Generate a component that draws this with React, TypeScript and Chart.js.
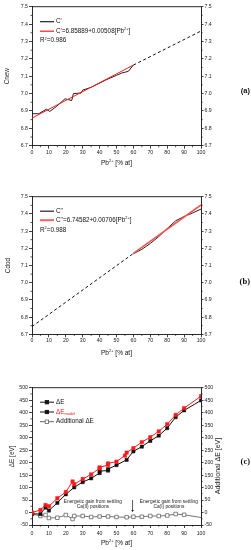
import React, { useEffect, useRef } from "react";
import { Chart, registerables } from "chart.js";
Chart.register(...registerables);

const SANS = "'Liberation Sans', Arial, sans-serif";
const SERIF = "'Liberation Serif', 'Times New Roman', serif";

// ---------------- data: panel (a) ----------------
const aX = [0, 4, 8.5, 10.5, 14.5, 19.5, 21.5, 23.5, 24.5, 29, 30, 35, 44, 50, 53, 57, 60];
const aC1 = [6.884, 6.884, 6.91, 6.897, 6.926, 6.97, 6.965, 6.96, 7.0, 7.003, 7.02, 7.036, 7.08, 7.105, 7.118, 7.128, 7.165];
const aFitX = [0, 60];
const aFitY = [6.859, 7.164];
const aExtX = [60, 100];
const aExtY = [7.164, 7.36];

// ---------------- data: panel (b) ----------------
const bX = [60, 65, 70, 75, 80, 85, 90, 95, 100];
const bC2 = [7.168, 7.194, 7.228, 7.268, 7.315, 7.36, 7.385, 7.405, 7.428];
const bFitX = [60, 100];
const bFitY = [7.17, 7.452];
const bExtX = [0, 60];
const bExtY = [6.745, 7.17];

// ---------------- data: panel (c) ----------------
const cdEX = [0, 5, 8, 10, 15, 20, 25, 30, 35, 40, 40, 45, 45, 50, 56, 60, 65, 70, 75, 80, 85, 90, 100];
const cdEY = [-5, -6, 20, 8, 39, 73, 101, 122, 137, 158, 166, 168, 174, 190, 211, 245, 264, 287, 308, 338, 382, 409, 449];
const cdEmX = [0, 5, 8, 10, 15, 20, 24, 25, 30, 35, 40, 40, 45, 45, 50, 55, 56, 60, 65, 70, 75, 80, 85, 90, 100];
const cdEmY = [0, 10, 30, 25, 57, 82, 124, 113, 134, 153, 177, 181, 190, 197, 204, 228, 240, 258, 282, 302, 325, 354, 391, 418, 466];
const cAddX = [0, 5, 8, 10, 15, 20, 24, 25, 30, 35, 40, 45, 50, 56, 60, 65, 70, 75, 80, 85, 90, 100];
const cAddY = [-6, -14, -10, -22, -21, -10, -26, -14, -14, -18, -16, -16, -18, -19, -17, -17, -14, -14, -12, -6, -9, -20];

// tick settings
const xRange = [0, 100, 10];
const abRange = [6.7, 7.5, 0.1];
const cRange = [-50, 500, 50];

// annotation texts (panel c)
const cNotes = [
  { x: 36, y: [42, 23], lines: ["Energetic gain from settling", "Ca(II) positions"] },
  { x: 81, y: [42, 23], lines: ["Energetic gain from settling", "Ca(I) positions"] },
];
const cArrow = { x: 59.5, from: 50, to: 2 };
const cRightTitle = "Additional \u0394E [eV]";

type Seg = { t: string; sup?: boolean; sub?: boolean; color?: string };

const xTitle: Seg[] = [{ t: "Pb" }, { t: "2+", sup: true }, { t: " [% at]" }];

function pts(xs: number[], ys: number[]) {
  return xs.map((x, i) => ({ x, y: ys[i] }));
}

function drawRich(ctx: CanvasRenderingContext2D, segs: Seg[], x: number, y: number, size: number, align: "left" | "center") {
  const fonts = segs.map((s) => `${s.sup || s.sub ? size * 0.62 : size}px ${SANS}`);
  const widths = segs.map((s, i) => {
    ctx.font = fonts[i];
    return ctx.measureText(s.t).width;
  });
  const total = widths.reduce((a, b) => a + b, 0);
  let cx = align === "center" ? x - total / 2 : x;
  ctx.textAlign = "left";
  ctx.textBaseline = "middle";
  segs.forEach((s, i) => {
    ctx.font = fonts[i];
    ctx.fillStyle = s.color || "#111";
    const dy = s.sup ? -size * 0.36 : s.sub ? size * 0.32 : 0;
    ctx.fillText(s.t, cx, y + dy);
    cx += widths[i];
  });
}

function lineDs(xs: number[], ys: number[], color: string, width: number, dash: number[] = []) {
  return {
    data: pts(xs, ys),
    borderColor: color,
    backgroundColor: color,
    borderWidth: width,
    borderDash: dash,
    pointRadius: 0,
    fill: false,
    tension: 0,
    yAxisID: "y",
  };
}

type LegendItem = { dy: number; segs: Seg[]; line?: { color: string; width: number }; marker?: { fill: string; stroke: string } };

function overlay(o: {
  xTitleY: number;
  label: string;
  labelFont: string;
  labelY: number;
  legend: LegendItem[];
  extra?: (chart: any, ctx: CanvasRenderingContext2D) => void;
}) {
  return {
    id: "overlay",
    afterDraw(chart: any) {
      const ctx: CanvasRenderingContext2D = chart.ctx;
      const { left, right, top, bottom } = chart.chartArea;
      ctx.save();
      // top frame line
      ctx.strokeStyle = "#111";
      ctx.lineWidth = 0.9;
      ctx.beginPath();
      ctx.moveTo(left, top);
      ctx.lineTo(right, top);
      ctx.stroke();
      // minor ticks
      ctx.lineWidth = 0.7;
      const xs = chart.scales.x;
      ctx.beginPath();
      for (let v = xRange[0] + xRange[2] / 2; v < xRange[1]; v += xRange[2]) {
        const p = xs.getPixelForValue(v);
        ctx.moveTo(p, bottom);
        ctx.lineTo(p, bottom + 1.6);
      }
      const ys = chart.scales.y;
      const st = ys.options.ticks.stepSize;
      for (let v = ys.min + st / 2; v < ys.max; v += st) {
        const p = ys.getPixelForValue(v);
        ctx.moveTo(left, p);
        ctx.lineTo(left - 1.6, p);
        ctx.moveTo(right, p);
        ctx.lineTo(right + 1.6, p);
      }
      ctx.stroke();
      // x title
      drawRich(ctx, xTitle, (left + right) / 2, o.xTitleY, 6.5, "center");
      // panel label
      ctx.font = o.labelFont;
      ctx.fillStyle = "#111";
      ctx.textAlign = "right";
      ctx.textBaseline = "middle";
      ctx.fillText(o.label, 250, o.labelY);
      // legend
      o.legend.forEach((it) => {
        const y = top + it.dy;
        if (it.line) {
          ctx.strokeStyle = it.line.color;
          ctx.lineWidth = it.line.width;
          ctx.setLineDash([]);
          ctx.beginPath();
          ctx.moveTo(left + 8, y);
          ctx.lineTo(left + 22, y);
          ctx.stroke();
        }
        if (it.marker) {
          ctx.fillStyle = it.marker.fill;
          ctx.strokeStyle = it.marker.stroke;
          ctx.lineWidth = 0.8;
          ctx.fillRect(left + 13.2, y - 1.7, 3.4, 3.4);
          ctx.strokeRect(left + 13.2, y - 1.7, 3.4, 3.4);
        }
        drawRich(ctx, it.segs, it.line ? left + 24 : left + 8, y, 6.3, "left");
      });
      if (o.extra) o.extra(chart, ctx);
      ctx.restore();
    },
  };
}

function makeOptions(p: {
  range: number[];
  dec: number;
  ytitle: string;
  ytp: number;
  xh: number;
  padTop: number;
  padBottom: number;
  tickPad: number;
}) {
  const tickFont = { family: SANS, size: 5.2 };
  const grid = { drawOnChartArea: false, drawTicks: true, tickLength: 3, color: "#111", lineWidth: 0.8 };
  const border = { display: true, color: "#111", width: 0.9 };
  const fmt = (v: any) => (p.dec ? Number(v).toFixed(p.dec) : String(Math.round(Number(v))));
  return {
    responsive: false,
    animation: false,
    devicePixelRatio: 1,
    events: [],
    layout: { padding: { left: 0, right: 26, top: p.padTop, bottom: p.padBottom } },
    plugins: { legend: { display: false }, tooltip: { enabled: false }, title: { display: false } },
    scales: {
      x: {
        type: "linear",
        min: xRange[0],
        max: xRange[1],
        ticks: { stepSize: xRange[2], font: tickFont, color: "#222", padding: p.tickPad, maxRotation: 0, autoSkip: false },
        grid,
        border,
        afterFit: (s: any) => {
          s.height = p.xh;
        },
      },
      y: {
        type: "linear",
        position: "left",
        min: p.range[0],
        max: p.range[1],
        ticks: { stepSize: p.range[2], font: tickFont, color: "#222", padding: 1, autoSkip: false, callback: fmt },
        title: { display: true, text: p.ytitle, font: { family: SANS, size: 6.4 }, color: "#222", padding: { top: p.ytp, bottom: 0 } },
        grid,
        border,
        afterFit: (s: any) => {
          s.width = 32;
        },
      },
      y2: {
        type: "linear",
        position: "right",
        display: true,
        min: p.range[0],
        max: p.range[1],
        ticks: { stepSize: p.range[2], font: tickFont, color: "#222", padding: 1, autoSkip: false, callback: fmt },
        grid: { ...grid, tickLength: 2.5 },
        border,
        afterFit: (s: any) => {
          s.width = 24;
        },
      },
    },
  };
}

function makeA(): any {
  return {
    type: "line",
    data: {
      datasets: [
        lineDs(aFitX, aFitY, "#ff1a1a", 1),
        lineDs(aX, aC1, "#222", 1),
        lineDs(aExtX, aExtY, "#111", 1, [3, 2.5]),
      ],
    },
    options: makeOptions({ range: abRange, dec: 1, ytitle: "Cnew", ytp: 3.7, xh: 26, padTop: 6.7, padBottom: 8.3, tickPad: 1 }),
    plugins: [
      overlay({
        xTitleY: 163,
        label: "(a)",
        labelFont: `bold 7.5px ${SANS}`,
        labelY: 91,
        legend: [
          { dy: 15, line: { color: "#222", width: 1.2 }, segs: [{ t: "C'" }] },
          { dy: 24.5, line: { color: "#ff1a1a", width: 1.2 }, segs: [{ t: "C'=6.85889+0.00508[Pb" }, { t: "2+", sup: true }, { t: "]" }] },
          { dy: 34, segs: [{ t: "R" }, { t: "2", sup: true }, { t: "=0.986" }] },
        ],
      }),
    ],
  };
}

function makeB(): any {
  return {
    type: "line",
    data: {
      datasets: [
        lineDs(bFitX, bFitY, "#ff5050", 1.5),
        lineDs(bX, bC2, "#222", 1),
        lineDs(bExtX, bExtY, "#111", 1, [3, 2.5]),
      ],
    },
    options: makeOptions({ range: abRange, dec: 1, ytitle: "Cdod", ytp: 4.5, xh: 26, padTop: 16.7, padBottom: 4.7, tickPad: 0.6 }),
    plugins: [
      overlay({
        xTitleY: 173,
        label: "(b)",
        labelFont: `bold 8.5px ${SERIF}`,
        labelY: 102,
        legend: [
          { dy: 14.5, line: { color: "#222", width: 1.2 }, segs: [{ t: "C''" }] },
          { dy: 23.5, line: { color: "#ff6060", width: 2 }, segs: [{ t: "C''=6.74582+0.00706[Pb" }, { t: "2+", sup: true }, { t: "]" }] },
          { dy: 33.5, segs: [{ t: "R" }, { t: "2", sup: true }, { t: "=0.988" }] },
        ],
      }),
    ],
  };
}

function makeC(): any {
  const red = "#ff1a1a";
  return {
    type: "line",
    data: {
      datasets: [
        { ...lineDs(cdEmX, cdEmY, red, 1), pointRadius: 2.4, pointStyle: "rect", pointBackgroundColor: red, pointBorderColor: red, pointBorderWidth: 0.5 },
        { ...lineDs(cdEX, cdEY, "#111", 1), pointRadius: 2.3, pointStyle: "rect", pointBackgroundColor: "#111", pointBorderColor: "#111", pointBorderWidth: 0.5 },
        {
          ...lineDs(cAddX, cAddY, "#666", 0.9),
          pointRadius: (c: any) => (c.dataIndex === cAddX.length - 1 ? 0 : 2.5),
          pointStyle: "rect",
          pointBackgroundColor: "#fff",
          pointBorderColor: "#666",
          pointBorderWidth: 0.8,
        },
      ],
    },
    options: makeOptions({
      range: cRange,
      dec: 0,
      ytitle: "\u0394E [eV]",
      ytp: 7.9,
      xh: 25,
      padTop: 22.7,
      padBottom: 0,
      tickPad: 2.5,
    }),
    plugins: [
      overlay({
        xTitleY: 178,
        label: "(c)",
        labelFont: `bold 8.5px ${SERIF}`,
        labelY: 97,
        legend: [
          { dy: 14.5, line: { color: "#111", width: 1 }, marker: { fill: "#111", stroke: "#111" }, segs: [{ t: "\u0394E" }] },
          {
            dy: 24.3,
            line: { color: "#111", width: 1 },
            marker: { fill: "#111", stroke: "#111" },
            segs: [{ t: "\u0394E", color: red }, { t: "model", sub: true, color: red }],
          },
          { dy: 34, line: { color: "#666", width: 1 }, marker: { fill: "#fff", stroke: "#666" }, segs: [{ t: "Additional \u0394E" }] },
        ],
        extra: (chart: any, ctx: CanvasRenderingContext2D) => {
          const xs = chart.scales.x;
          const ys = chart.scales.y;
          ctx.font = `4.8px ${SANS}`;
          ctx.fillStyle = "#222";
          ctx.textAlign = "center";
          ctx.textBaseline = "middle";
          cNotes.forEach((n) => {
            n.lines.forEach((t, i) => ctx.fillText(t, xs.getPixelForValue(n.x), ys.getPixelForValue(n.y[i])));
          });
          const ax = xs.getPixelForValue(cArrow.x);
          const y1 = ys.getPixelForValue(cArrow.from);
          const y2 = ys.getPixelForValue(cArrow.to);
          ctx.strokeStyle = "#111";
          ctx.lineWidth = 0.7;
          ctx.beginPath();
          ctx.moveTo(ax, y1);
          ctx.lineTo(ax, y2 - 1.5);
          ctx.stroke();
          ctx.fillStyle = "#111";
          ctx.beginPath();
          ctx.moveTo(ax - 1.3, y2 - 2);
          ctx.lineTo(ax + 1.3, y2 - 2);
          ctx.lineTo(ax, y2);
          ctx.closePath();
          ctx.fill();
          // right axis title, reading bottom-to-top
          ctx.save();
          ctx.translate(218, 101);
          ctx.rotate(-Math.PI / 2);
          ctx.font = `7px ${SANS}`;
          ctx.fillStyle = "#222";
          ctx.textAlign = "center";
          ctx.textBaseline = "middle";
          ctx.fillText(cRightTitle, 0, 0);
          ctx.restore();
        },
      }),
    ],
  };
}

function Panel({ top, height, make }: { top: number; height: number; make: () => any }) {
  const ref = useRef<HTMLCanvasElement>(null);
  useEffect(() => {
    const chart = new Chart(ref.current as HTMLCanvasElement, make());
    return () => chart.destroy();
  }, []);
  return (
    <canvas
      ref={ref}
      width={251}
      height={height}
      style={{ position: "absolute", left: 0, top, width: 251, height, display: "block" }}
    />
  );
}

export default function App() {
  return (
    <div style={{ position: "absolute", left: 0, top: 0, width: 251, height: 550, background: "#fff", overflow: "hidden" }}>
      <Panel top={0} height={180} make={makeA} />
      <Panel top={180} height={185} make={makeB} />
      <Panel top={365} height={185} make={makeC} />
    </div>
  );
}
